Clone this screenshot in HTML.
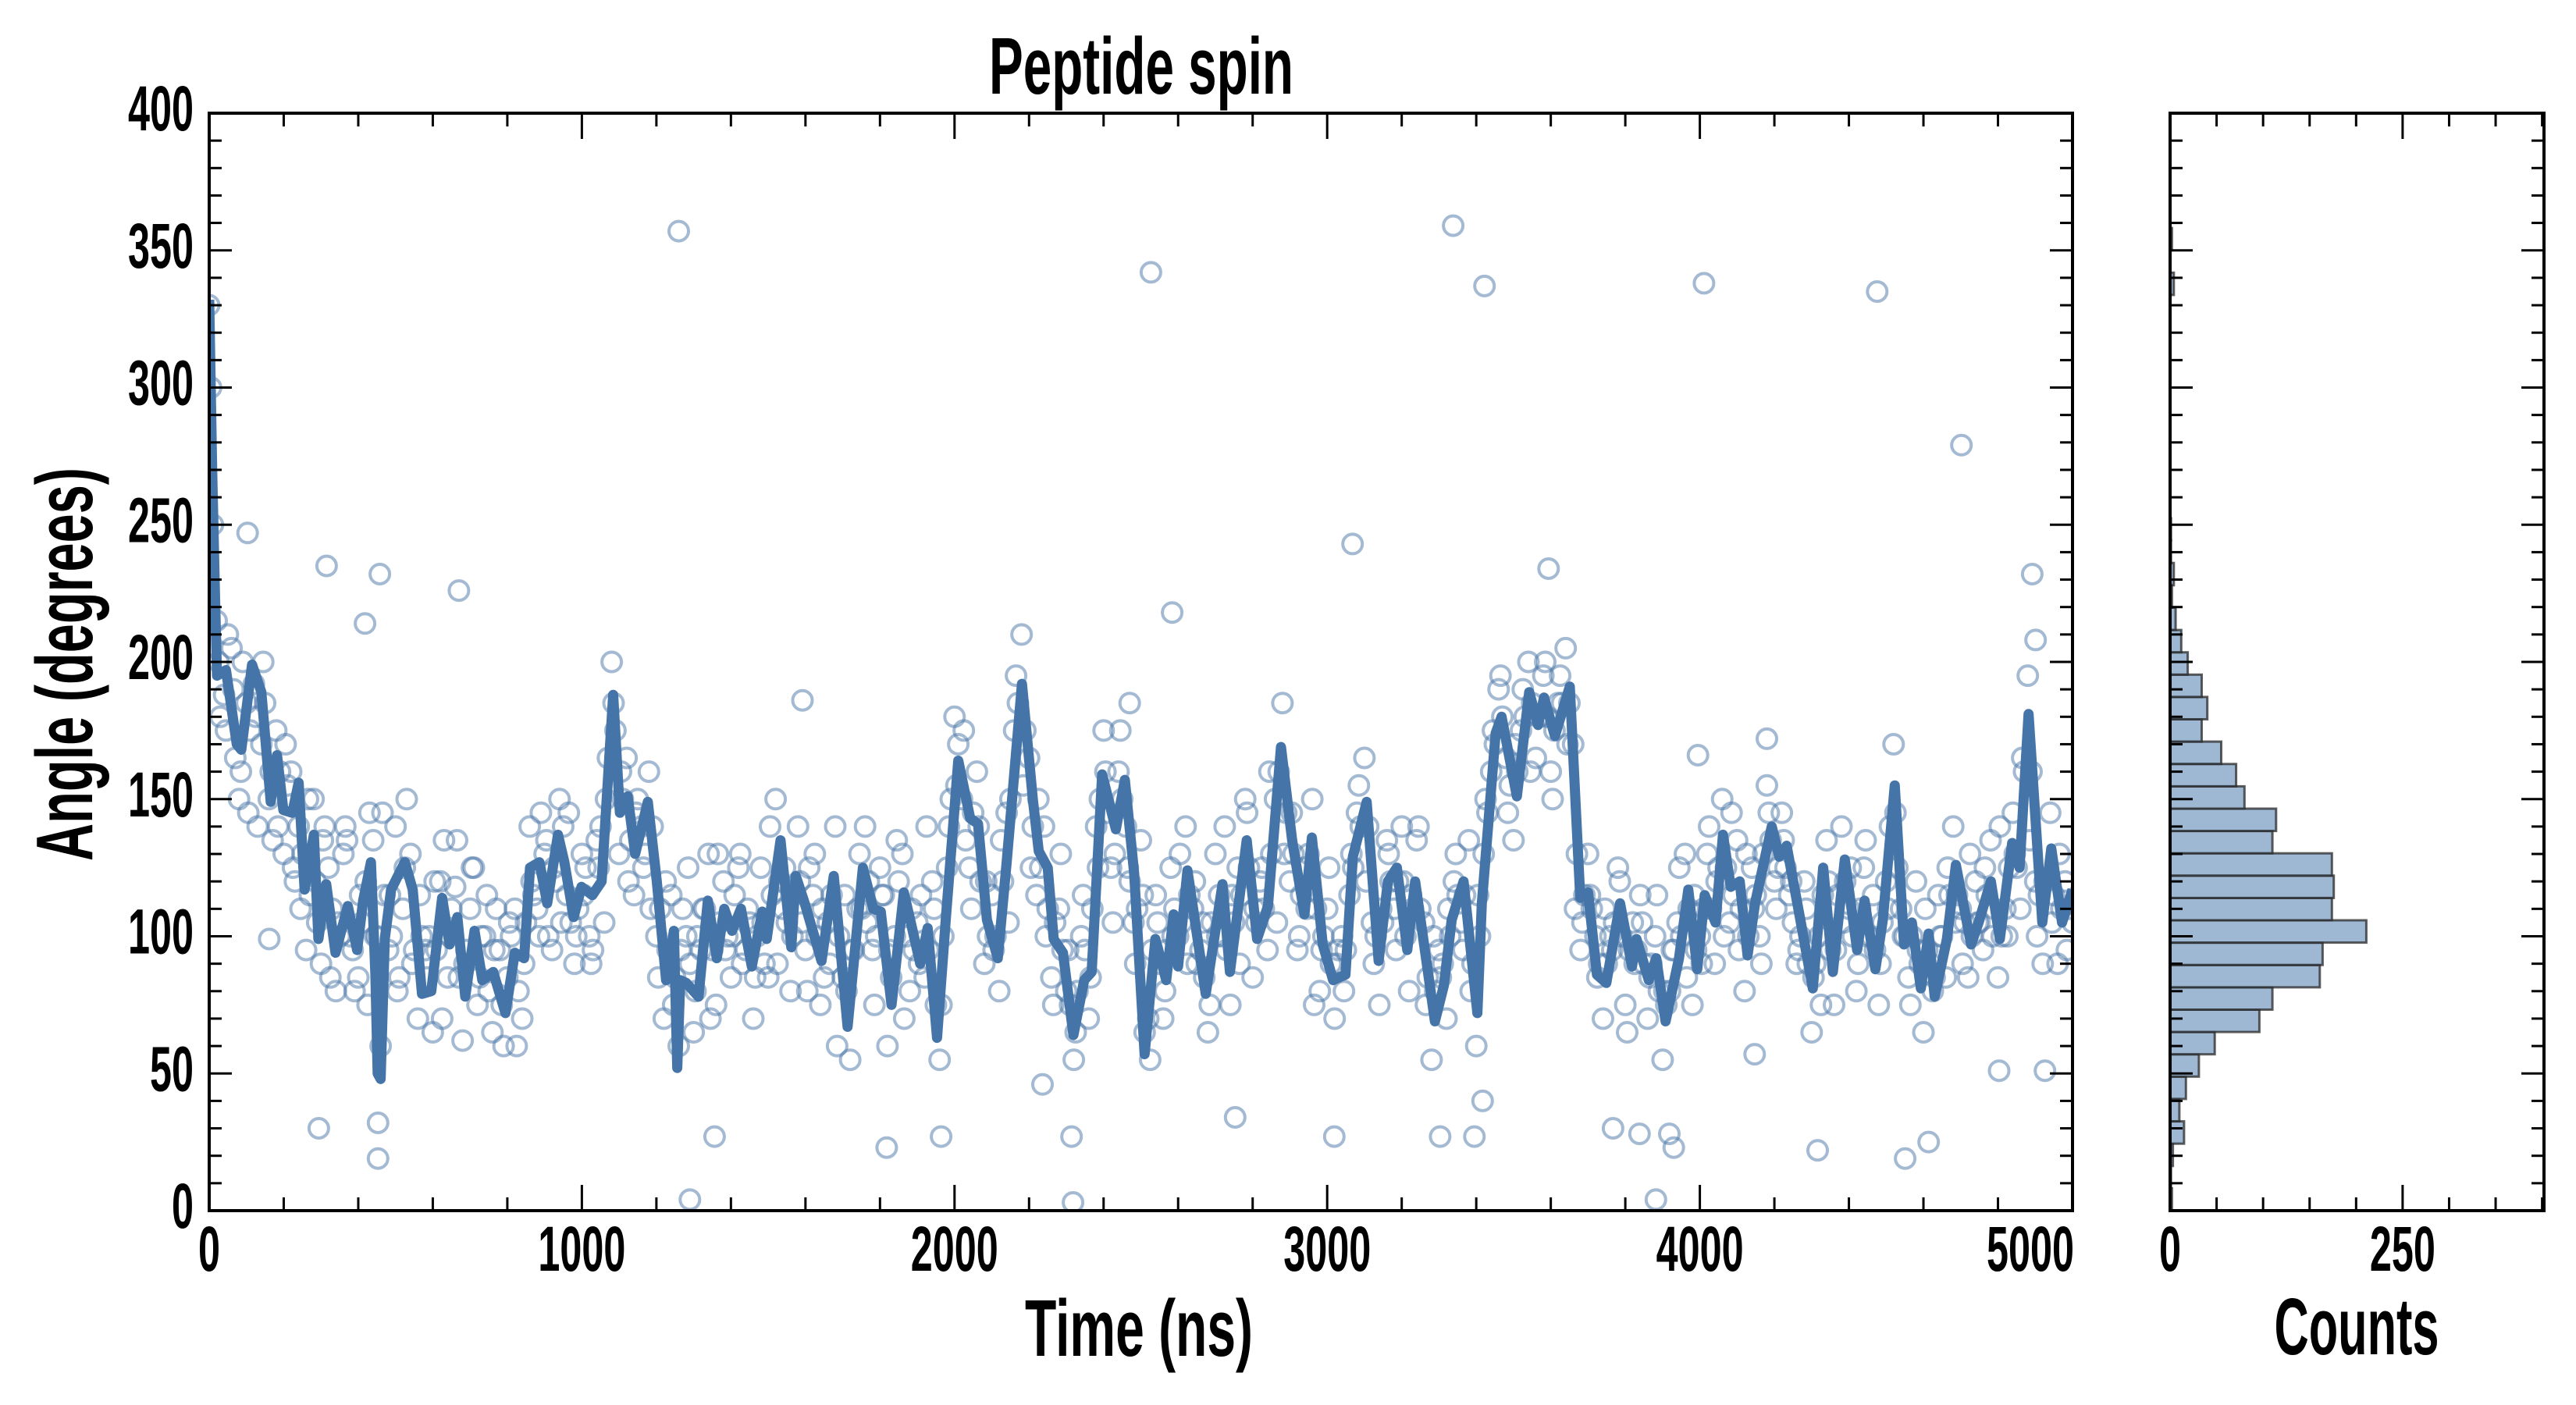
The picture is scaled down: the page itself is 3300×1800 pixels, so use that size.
<!DOCTYPE html>
<html><head><meta charset="utf-8"><style>
html,body{margin:0;padding:0;background:#fff;}
svg{display:block;}
text{font-family:"Liberation Sans Narrow","Liberation Sans",sans-serif;font-weight:bold;fill:#000;}
</style></head><body>
<svg id="chart" width="3300" height="1800" viewBox="0 0 3300 1800" xmlns="http://www.w3.org/2000/svg">
<defs><clipPath id="plotclip"><rect x="268" y="145" width="2387" height="1406"/></clipPath></defs>
<rect x="0" y="0" width="3300" height="1800" fill="#fff"/>
<g id="scatter" clip-path="url(#plotclip)"></g>
<g id="line" clip-path="url(#plotclip)"></g>
<g id="hist"></g>
<g id="axes"></g>
<text x="1462" y="120" font-size="103" text-anchor="middle" textLength="390" lengthAdjust="spacingAndGlyphs">Peptide spin</text>
<text x="1459" y="1737" font-size="103" text-anchor="middle" textLength="292" lengthAdjust="spacingAndGlyphs">Time (ns)</text>
<text x="3019" y="1735" font-size="103" text-anchor="middle" textLength="211" lengthAdjust="spacingAndGlyphs">Counts</text>
<text x="0" y="0" font-size="103" text-anchor="middle" textLength="504" lengthAdjust="spacingAndGlyphs" transform="translate(118,851) rotate(-90)">Angle (degrees)</text>
</svg>
<script>
// ---- data ----
const lineT = [0,8,16,21,45,74,86,115,140,165,182,199,223,240,256,281,293,314,339,372,397,413,434,446,452,460,471,488,525,546,571,596,625,645,666,687,712,733,762,795,820,845,861,886,907,936,953,978,999,1028,1053,1084,1102,1123,1143,1177,1201,1226,1247,1256,1264,1280,1313,1338,1362,1382,1403,1427,1456,1484,1496,1533,1562,1574,1598,1643,1676,1713,1754,1782,1802,1831,1864,1908,1928,1953,1977,2010,2042,2063,2087,2116,2140,2181,2210,2226,2250,2266,2291,2319,2348,2368,2396,2433,2457,2482,2510,2539,2568,2588,2600,2625,2674,2719,2739,2759,2784,2812,2841,2876,2906,2939,2959,2988,3016,3049,3069,3106,3138,3163,3187,3215,3236,3289,3313,3334,3366,3403,3415,3452,3468,3509,3542,3566,3582,3611,3651,3679,3700,3724,3749,3786,3818,3830,3863,3883,3908,3944,3969,3993,4013,4042,4062,4083,4107,4128,4148,4193,4213,4233,4271,4303,4331,4357,4389,4422,4442,4471,4491,4523,4548,4569,4593,4614,4630,4663,4687,4728,4748,4781,4805,4838,4858,4882,4919,4943,4972,5000];
const lineV = [332,270,222,195,197,170,168,199,189,149,166,146,145,156,117,137,99,119,94,111,95,113,127,86,50,48,99,117,127,117,79,80,114,97,107,78,102,84,87,72,94,92,125,127,112,137,127,107,118,115,120,188,145,151,130,149,120,84,102,52,84,83,78,113,92,110,102,110,89,109,99,135,96,122,112,91,122,67,125,110,109,75,116,90,103,63,107,164,143,141,106,92,127,192,150,131,125,99,94,64,84,87,159,139,157,123,57,99,84,108,89,124,79,119,87,108,135,99,111,169,135,108,136,97,84,86,129,149,91,120,125,95,120,69,82,106,120,72,112,174,180,151,189,177,187,173,191,114,116,86,83,112,89,99,84,92,69,92,117,88,115,105,137,118,120,93,112,140,129,133,105,81,125,87,128,95,113,88,106,155,97,105,81,101,78,99,126,97,105,120,99,134,125,181,105,132,105,117];
const scatterA = [330,215,188,205,150,185,192,170,150,175,130,160,140,95,150,90,125,80,130,100,85,120,135,60,95,140,110,130,70,95,65,120,85,118,62,110,75,100,65,95,85,110,70,140,110,130,95,150,115,90,130,100,135,105,200,130,165,115,140,160,100,70,115,60,100,65,95,130,75,120,85,125,95,70,125,85,150,110,80,140,95,115,75,105,140,85,55,110,140,95,125,60,100,130,80,105,85,120,55,125,180,150,125,160,90,115,80,145,175,210,165,115,140,85,110,80,55,100,70,140,175,125,160,140,105,135,70,115,70,125,100,140,110,95,65,130,100,75,125,150,85,120,95,150,185,120,95,125,150,80,110,70,100,115,145,165,105,75,135,110,140,80,135,105,55,95,70,120,105,135,60,130,160,190,165,135,175,200,165,195,160,185,205,170,95,130,100,70,100,125,75,105,115,70,100,55,80,105,130,75,100,130,90,150,105,135,80,125,100,155,120,145,115,90,120,65,100,135,75,140,110,80,125,100,75,120,170,110,85,120,65,90,115,85,140,110,85,120,95,135,85,110,145,110,195,120,90,145,90,120,105];
const scatterB = [250,180,210,165,200,175,140,185,135,160,155,120,130,115,105,140,110,100,135,80,105,145,100,115,100,85,150,95,100,100,95,135,110,85,95,125,100,80,110,60,100,80,105,115,145,100,120,140,105,110,125,95,140,165,175,150,135,150,130,140,110,95,85,110,90,100,110,95,105,100,115,90,105,100,90,115,120,105,115,105,125,100,85,115,100,80,95,110,120,100,115,85,120,100,95,115,95,75,100,150,170,135,145,120,100,100,120,150,185,175,140,125,110,105,95,75,80,95,110,150,145,130,150,120,110,65,95,90,95,110,105,115,90,85,105,115,95,105,115,125,105,110,130,160,145,130,115,130,110,100,90,95,95,125,140,140,100,105,120,120,100,110,110,85,80,90,100,115,115,90,100,145,170,180,155,160,180,185,180,180,175,185,185,130,115,110,90,90,105,100,95,95,90,90,80,75,95,100,110,95,110,110,125,125,115,110,100,115,130,135,125,125,105,100,90,90,115,95,115,120,100,110,100,95,105,140,125,100,100,90,95,85,100,115,115,105,100,105,115,110,100,125,125,160,160,115,120,115,110,110];
const scatterC = [300,200,175,190,160,145,180,200,160,140,170,125,110,150,120,135,85,105,140,95,115,75,100,145,115,80,125,90,115,85,120,70,100,135,90,125,85,115,95,75,105,60,90,120,100,135,125,105,145,100,115,90,125,150,185,160,120,145,125,110,85,120,75,95,125,80,110,70,130,95,100,130,110,85,105,140,90,125,100,120,80,130,110,90,60,115,95,130,105,75,115,95,135,70,110,90,140,110,75,140,155,175,110,140,120,95,135,105,195,155,125,150,100,75,130,95,65,115,85,125,160,105,175,125,90,115,55,105,80,100,130,90,120,105,75,100,140,115,90,145,110,125,160,105,130,145,100,110,75,95,125,90,80,130,155,120,90,110,130,95,120,115,140,75,100,85,110,130,95,80,115,150,175,195,145,170,190,160,180,200,150,195,170,110,105,115,85,110,95,120,65,90,105,85,115,80,95,125,85,115,90,140,120,100,145,95,130,110,90,145,110,135,120,95,110,85,75,120,95,105,125,90,135,115,90,110,145,100,75,95,110,80,100,125,105,90,130,105,125,100,140,100,130,165,135,100,120,105,130,95,115,95,100];
const outT = [1260,2527,3338,3422,4011,4476,4702,3068,103,315,458,670,418,2584,3594,4892,4901,294,453,453,1290,1356,2318,2314,1818,1964,2753,3019,3303,3395,3417,3767,3838,3882,3918,3930,4316,4551,4614,4147,4803,4926,1592,2470,2236,4180,3995,161];
const outV = [357,342,359,337,338,335,279,243,247,235,232,226,214,218,234,232,208,30,19,32,4,27,3,27,23,27,34,27,27,27,40,30,28,4,28,23,22,19,25,57,51,51,186,185,46,172,166,99];
const histCounts = [2,1,3,15,10,17,31,48,96,110,161,164,211,174,176,174,110,114,80,71,55,34,40,34,19,12,6,2,4,1,1,0,0,0,0,0,0,0,0,0,0,4,0,2];
const binWidth = 8.14;
const yTickLabels = ["0","50","100","150","200","250","300","350","400"];
const xTickLabels = ["0","1000","2000","3000","4000","5000"];
const histTickLabels = ["0","250"];

// ---- geometry ----
const NS='http://www.w3.org/2000/svg';
const L=268,R=2655,T=145,B=1551;
const HL=2780,HR=3259;
const X=t=>L+t*(R-L)/5000;
const Y=v=>B-v*(B-T)/400;
const HX=c=>HL+c*(HR-HL)/402;
function mk(tag,attrs,parent){const e=document.createElementNS(NS,tag);for(const k in attrs)e.setAttribute(k,attrs[k]);parent.appendChild(e);return e;}

const sc=document.getElementById('scatter');
function dot(t,v){
  if(v>400||v<0||t>5000)return;
  const c=mk('circle',{cx:X(t).toFixed(1),cy:Y(v).toFixed(1),r:12.5,fill:'none',stroke:'rgba(74,118,168,0.5)','stroke-width':4},sc);
  
  
}
scatterA.forEach((v,i)=>dot(i*20,v));
scatterB.forEach((v,i)=>dot(10+i*20,v));
scatterC.forEach((v,i)=>dot(5+i*20,v));
outT.forEach((t,i)=>dot(t,outV[i]));

const lg=document.getElementById('line');
const pts=lineT.map((t,i)=>X(t).toFixed(1)+','+Y(lineV[i]).toFixed(1)).join(' ');
const pl=mk('polyline',{points:pts,fill:'none',stroke:'#4575a8','stroke-width':13,'stroke-linejoin':'round'},lg);



const hg=document.getElementById('hist');
histCounts.forEach((c,k)=>{
  if(c<=0)return;
  const y0=Y(k*binWidth), y1=Y(Math.min((k+1)*binWidth,400));
  const r=mk('rect',{x:HL,y:y1.toFixed(1),width:(HX(c)-HL).toFixed(1),height:(y0-y1).toFixed(1),fill:'rgba(120,156,196,0.72)',stroke:'rgba(40,40,40,0.75)','stroke-width':3},hg);
  
  
});

// ---- axes ----
const ax=document.getElementById('axes');
function ln(x1,y1,x2,y2,w){return mk('line',{x1,y1,x2,y2,stroke:'#000','stroke-width':w},ax);}
function label(x,y,txt,anchor,name){
  const t=mk('text',{x,y,'font-size':82,'text-anchor':anchor,textLength:txt.length*28,lengthAdjust:'spacingAndGlyphs'},ax);
  t.textContent=txt;
  
  
}
const f1=mk('rect',{x:L,y:T,width:R-L,height:B-T,fill:'none',stroke:'#000','stroke-width':4},ax);


const f2=mk('rect',{x:HL,y:T,width:HR-HL,height:B-T,fill:'none',stroke:'#000','stroke-width':4},ax);


for(let v=0;v<=400;v+=10){
  const y=Y(v), major=v%50===0, len=major?29:16;
  ln(L,y,L+len,y,3); ln(R,y,R-len,y,3);
  ln(HL,y,HL+len,y,3); ln(HR,y,HR-len,y,3);
}
yTickLabels.forEach(s=>label(248,Y(+s)+22,s,'end','y-tick-label'));
for(let t=0;t<=5000;t+=200){
  const x=X(t), len=t%1000===0?33:17;
  ln(x,B,x,B-len,3); ln(x,T,x,T+len,3);
}
xTickLabels.forEach((s,i)=>{
  const last=i===xTickLabels.length-1;
  label(last?R+2:X(+s),1628,s,last?'end':'middle','x-tick-label');
});
for(let c=0;c<=400;c+=50){
  const x=HX(c), len=c%250===0?33:17;
  ln(x,B,x,B-len,3); ln(x,T,x,T+len,3);
}
histTickLabels.forEach(s=>label(HX(+s),1628,s,'middle','histogram-x-tick-label'));
</script>
</body></html>
